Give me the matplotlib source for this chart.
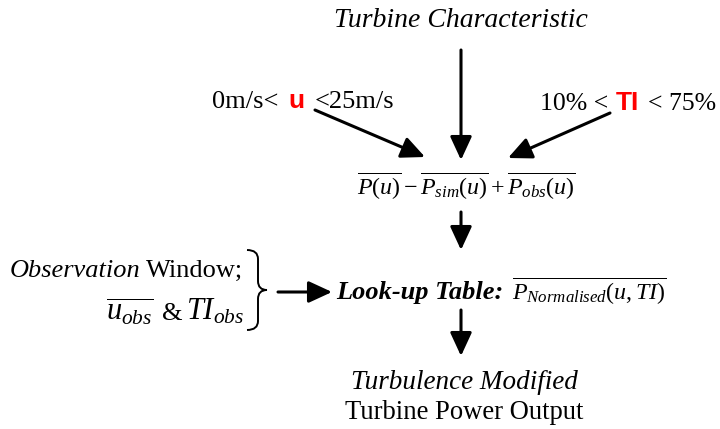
import matplotlib
matplotlib.use("Agg")
import matplotlib.pyplot as plt
from matplotlib.path import Path
from matplotlib.patches import PathPatch

plt.rcParams['font.family'] = ['Liberation Serif', 'DejaVu Serif']
plt.rcParams['mathtext.fontset'] = 'custom'
plt.rcParams['mathtext.rm'] = 'Liberation Serif'
plt.rcParams['mathtext.it'] = 'Liberation Serif:italic'
plt.rcParams['mathtext.bf'] = 'Liberation Serif:bold'

# textos del diagrama
titulo = "Turbine Characteristic"
rango_u = ["0m/s<", "u", "<25m/s"]
rango_ti = ["10% <", "TI", "< 75%"]
formula = r"$\overline{P(u)} - \overline{P_{sim}(u)} + \overline{P_{obs}(u)}$"
ventana = ["Observation", "Window;"]
obs_u = r"$\overline{u_{obs}}$"
obs_ti = r"$TI_{obs}$"
tabla = "Look-up Table:"
tabla_formula = r"$\overline{P_{Normalised}(u,TI)}$"
salida = ["Turbulence Modified", "Turbine Power Output"]

fig = plt.figure(figsize=(7.2, 4.29), dpi=100)
ax = fig.add_axes([0, 0, 1, 1])
ax.set_xlim(0, 720)
ax.set_ylim(429, 0)
ax.axis('off')
rend = fig.canvas.get_renderer()


def flecha(x0, y0, x1, y1):
    ax.annotate("", xy=(x1, y1), xytext=(x0, y0),
                arrowprops=dict(arrowstyle='-|>,head_length=0.65,head_width=0.3',
                                lw=2.2, color='k',
                                mutation_scale=22, shrinkA=0, shrinkB=0))


def cadena(x, y, piezas, gap=6):
    # pone los textos uno detras de otro
    for txt, kw in piezas:
        t = ax.text(x, y, txt, ha='left', va='baseline', **kw)
        x = t.get_window_extent(rend).x1 + gap
    return x


red = dict(fontsize=19, color='red', fontweight='bold', family='Liberation Sans')

# arriba
ax.text(461, 27, titulo, ha='center', va='baseline', fontsize=20, style='italic')
flecha(461, 50, 461, 160)

# rango de velocidad
cadena(212, 108, [(rango_u[0], dict(fontsize=19)),
                  (rango_u[1], red),
                  (rango_u[2], dict(fontsize=19))], gap=10)
flecha(315, 110, 425, 157)

# rango de turbulencia
cadena(540, 110, [(rango_ti[0], dict(fontsize=18.5)),
                  (rango_ti[1], red),
                  (rango_ti[2], dict(fontsize=18.5))], gap=8)
flecha(610, 113, 508, 158)

# formula
ax.text(466, 186, formula, ha='center', va='center', fontsize=17.3)
flecha(461, 212, 461, 250)

# ventana de observacion
cadena(10, 277, [(ventana[0], dict(fontsize=19, style='italic')),
                 (ventana[1], dict(fontsize=19))], gap=5)
ax.text(106, 320, obs_u, ha='left', va='baseline', fontsize=22)
ax.text(162, 320, "&", ha='left', va='baseline', fontsize=19)
ax.text(186, 320, obs_ti, ha='left', va='baseline', fontsize=22)

# llave
bx, by0, by1 = 247, 250, 330
bm = (by0 + by1) / 2
verts = [(bx, by0), (bx + 11, by0), (bx + 11, by0 + 9), (bx + 11, bm - 9),
         (bx + 11, bm), (bx + 20, bm), (bx + 20, bm),
         (bx + 11, bm), (bx + 11, bm + 9), (bx + 11, by1 - 9),
         (bx + 11, by1), (bx, by1)]
codes = [Path.MOVETO, Path.CURVE3, Path.CURVE3, Path.LINETO,
         Path.CURVE3, Path.CURVE3, Path.MOVETO,
         Path.CURVE3, Path.CURVE3, Path.LINETO,
         Path.CURVE3, Path.CURVE3]
ax.add_patch(PathPatch(Path(verts, codes), fill=False, lw=1.4, color='k'))
flecha(278, 292, 332, 292)

# tabla
ax.text(336, 299, tabla, ha='left', va='baseline', fontsize=19,
        style='italic', fontweight='bold')
ax.text(512, 291, tabla_formula, ha='left', va='center', fontsize=17.3)
flecha(461, 310, 461, 356)

# salida
ax.text(464, 389, salida[0], ha='center', va='baseline', fontsize=19.5, style='italic')
ax.text(464, 419, salida[1], ha='center', va='baseline', fontsize=19.2)

fig.savefig("out.png", dpi=100)
